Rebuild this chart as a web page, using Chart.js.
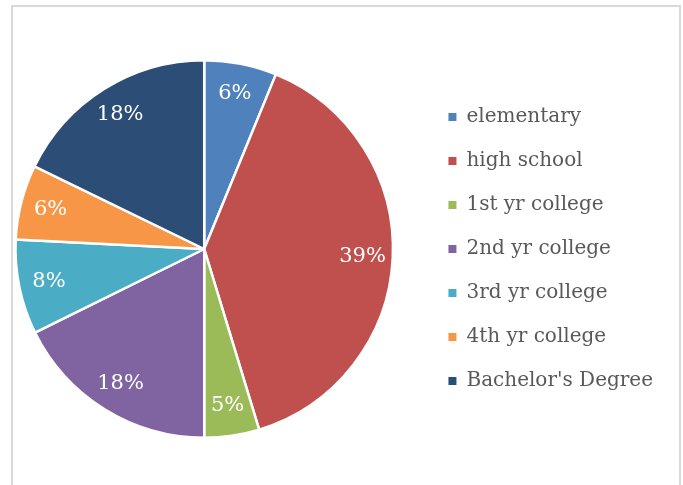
<!DOCTYPE html>
<html>
<head>
<meta charset="utf-8">
<script src="https://cdn.jsdelivr.net/npm/chart.js@4"></script>
<style>
  html, body { margin: 0; padding: 0; background: #fff; overflow: hidden; }
  #frame { position: absolute; left: 11px; top: 5px; width: 670px; height: 520px; border: 2px solid #d9d9d9; box-sizing: border-box; }
  #c { position: absolute; left: 0; top: 0; }
</style>
</head>
<body>
<div id="frame"></div>
<canvas id="c" width="683" height="485"></canvas>
<script>
const categories = ["elementary", "high school", "1st yr college", "2nd yr college", "3rd yr college", "4th yr college", "Bachelor's Degree"];
const shares = [6.2, 39.1, 4.7, 17.7, 8.1, 6.4, 17.8];
const sliceColors = ["#4F81BD", "#C0504D", "#9BBB59", "#8064A2", "#4BACC6", "#F79646", "#2C4D75"];

const FONT = "'DejaVu Serif', serif";

const pctLabels = {
  id: 'pctLabels',
  afterDatasetsDraw(chart) {
    const ctx = chart.ctx;
    const meta = chart.getDatasetMeta(0);
    const data = chart.data.datasets[0].data;
    const total = data.reduce((a, b) => a + b, 0);
    ctx.save();
    ctx.fillStyle = '#ffffff';
    ctx.font = "21px " + FONT;
    ctx.textAlign = 'center';
    ctx.textBaseline = 'middle';
    meta.data.forEach((arc, i) => {
      const p = arc.getProps(['x', 'y', 'startAngle', 'endAngle', 'outerRadius'], true);
      const mid = (p.startAngle + p.endAngle) / 2;
      const r = p.outerRadius * 0.84;
      ctx.fillText(Math.round(data[i] / total * 100) + '%', p.x + Math.cos(mid) * r, p.y + Math.sin(mid) * r);
    });
    ctx.restore();
  }
};

// shift the legend block right so the pie can sit left of centre
const legendShift = {
  id: 'legendShift',
  afterLayout(chart) {
    const lg = chart.legend;
    if (lg) { lg.left += 16; lg.right += 16; }
  }
};

new Chart(document.getElementById('c'), {
  type: 'pie',
  data: {
    labels: categories,
    datasets: [{
      data: shares,
      backgroundColor: sliceColors,
      borderColor: '#ffffff',
      borderWidth: 2.5
    }]
  },
  options: {
    responsive: false,
    animation: false,
    layout: { padding: { left: 0, top: 59, bottom: 46, right: 36 } },
    plugins: {
      tooltip: { enabled: false },
      legend: {
        position: 'right',
        align: 'center',
        labels: {
          boxWidth: 8,
          boxHeight: 8,
          padding: 24,
          color: '#595959',
          font: { family: FONT, size: 20 },
          generateLabels(chart) {
            const items = Chart.overrides.pie.plugins.legend.labels.generateLabels(chart);
            items.forEach(it => { it.lineWidth = 0; it.strokeStyle = it.fillStyle; });
            return items;
          }
        }
      }
    }
  },
  plugins: [pctLabels, legendShift]
});
</script>
</body>
</html>
